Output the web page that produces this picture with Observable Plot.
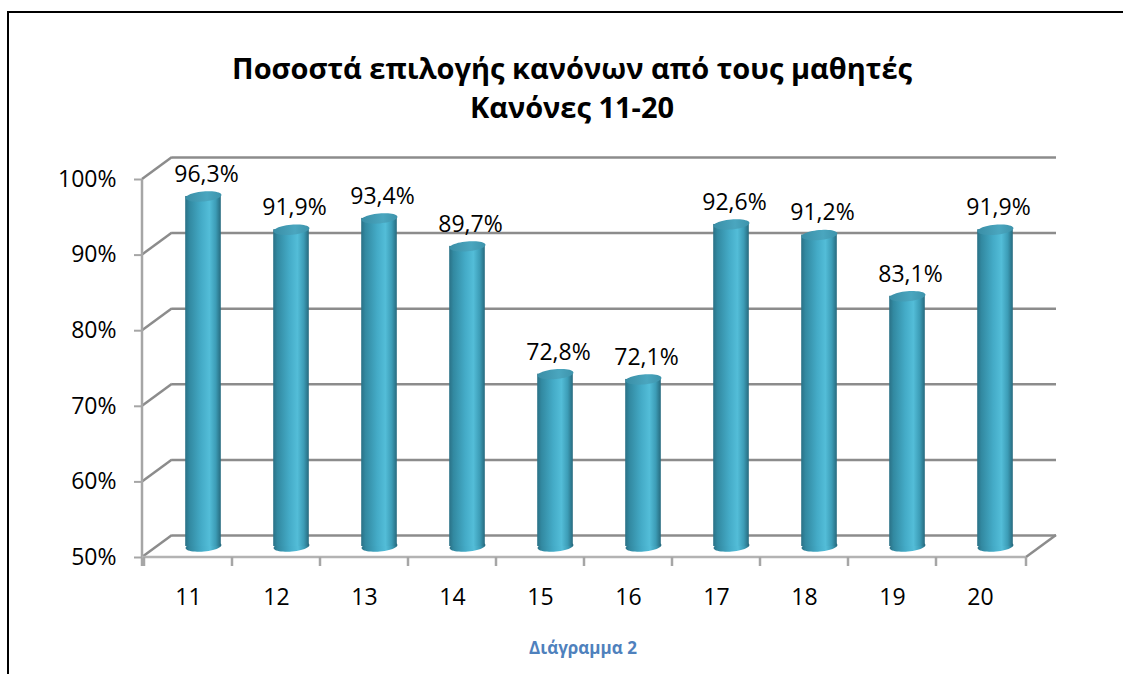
<!DOCTYPE html>
<html>
<head>
<meta charset="utf-8">
<script src="https://cdn.jsdelivr.net/npm/d3@7"></script>
<script src="https://cdn.jsdelivr.net/npm/@observablehq/plot@0.6"></script>
<style>
  html, body { margin: 0; padding: 0; background: #fff; }
  body { width: 1123px; height: 674px; overflow: hidden; position: relative; font-family: "Open Sans", sans-serif; }
  #frame { position: absolute; left: 7px; top: 11px; width: 1140px; height: 700px; border-left: 2px solid #000; border-top: 2px solid #000; box-sizing: border-box; }
  #title { position: absolute; left: 0; width: 1144px; top: 48px; text-align: center; font-weight: 700; font-size: 29px; line-height: 39px; color: #000; }
  #chart { position: absolute; left: 0; top: 0; }
  #caption { position: absolute; left: 0; width: 1166px; top: 636px; text-align: center; font-weight: 700; font-size: 17px; color: #4f81bd; }
</style>
</head>
<body>
<div id="frame"></div>
<div id="title">Ποσοστά επιλογής κανόνων από τους μαθητές<br>Κανόνες 11-20</div>
<div id="chart"></div>
<div id="caption">Διάγραμμα 2</div>
<script>
// ---- data ----
const categories = ["11", "12", "13", "14", "15", "16", "17", "18", "19", "20"];
const values = [96.3, 91.9, 93.4, 89.7, 72.8, 72.1, 92.6, 91.2, 83.1, 91.9];
const yTicks = [50, 60, 70, 80, 90, 100];

const data = categories.map((c, i) => ({cat: c, v: values[i]}));

// ---- 3D look constants (style only) ----
const DX = 30, DY = -22;          // depth offset of the back wall
const CX = DX / 2, CY = DY / 2;   // cylinders sit mid-depth
const GRID = "#8c8c8c";
const svgNS = "http://www.w3.org/2000/svg";

function el(name, attrs) {
  const e = document.createElementNS(svgNS, name);
  for (const k in attrs) e.setAttribute(k, attrs[k]);
  return e;
}

// ellipse symbol for the cylinder caps
const capSymbol = {
  draw(ctx) {
    const rx = 18, ry = 5, a = -0.09, n = 48;
    for (let i = 0; i <= n; i++) {
      const t = 2 * Math.PI * i / n;
      const x = rx * Math.cos(t), y = ry * Math.sin(t);
      const X = x * Math.cos(a) - y * Math.sin(a);
      const Y = x * Math.sin(a) + y * Math.cos(a);
      if (i === 0) ctx.moveTo(X, Y); else ctx.lineTo(X, Y);
    }
    ctx.closePath();
  }
};

// chrome: gradients, side-wall diagonals, floor, category ticks
function chrome(index, scales, vals, dims) {
  const x = scales.x, y = scales.y;
  const g = el("g", {});
  const defs = el("defs", {});
  const body = el("linearGradient", {id: "cylBody", x1: "0", x2: "1", y1: "0", y2: "0"});
  [["0", "#2a7186"], ["0.12", "#3289a1"], ["0.45", "#44abc7"], ["0.68", "#53bdd8"], ["0.86", "#3c9cb6"], ["1", "#276a7e"]]
    .forEach(([o, c]) => body.appendChild(el("stop", {offset: o, "stop-color": c})));
  const top = el("linearGradient", {id: "cylTop", x1: "0", x2: "1", y1: "0", y2: "0"});
  [["0", "#3a8ea6"], ["0.6", "#4aa6bf"], ["1", "#3d93ab"]]
    .forEach(([o, c]) => top.appendChild(el("stop", {offset: o, "stop-color": c})));
  defs.appendChild(body); defs.appendChild(top);
  g.appendChild(defs);

  const x0 = dims.marginLeft, x1 = dims.width - dims.marginRight;
  const yb = y(50), yt = y(100);
  const line = (a, b, c, d, stroke) => g.appendChild(el("line", {x1: a, y1: b, x2: c, y2: d, stroke, "stroke-width": 2.5}));
  // left side wall diagonals at each tick
  for (const t of yTicks) line(x0, y(t), x0 + DX, y(t) + DY, GRID);
  // right floor diagonal
  line(x1, yb, x1 + DX, yb + DY, GRID);
  // front vertical axis line
  line(x0, yt, x0, yb + 9, "#a6a6a6");
  // front floor edge
  line(x0, yb, x1, yb, "#b3b3b3");
  // category ticks at band boundaries
  for (const c of categories) line(x(c), yb, x(c), yb + 9, "#a6a6a6");
  line(x1, yb, x1, yb + 9, "#a6a6a6");
  return g;
}

const plot = Plot.plot({
  width: 1123,
  height: 674,
  marginLeft: 142,
  marginRight: 97,
  marginTop: 179,
  marginBottom: 117,
  style: {fontFamily: "'Open Sans', sans-serif", fontSize: "23px", color: "#000", background: "transparent", overflow: "visible"},
  x: {domain: categories, padding: 0, axis: null},
  y: {domain: [50, 100], axis: null},
  marks: [
    chrome,
    // back wall gridlines
    Plot.ruleY(yTicks, {dx: DX, dy: DY, stroke: GRID, strokeWidth: 2.5}),
    // cylinder bottoms
    Plot.dot(data, {x: "cat", y: () => 50, dx: CX, dy: CY, symbol: capSymbol, fill: "url(#cylBody)", stroke: "none"}),
    // cylinder bodies
    Plot.barY(data, {x: "cat", y1: 50, y2: "v", dx: CX, dy: CY, insetLeft: 26.2, insetRight: 26.2, fill: "url(#cylBody)"}),
    // cylinder tops
    Plot.dot(data, {x: "cat", y: "v", dx: CX, dy: CY, symbol: capSymbol, fill: "url(#cylTop)", stroke: "none"}),
    // value labels
    Plot.text(data, {x: "cat", y: "v", text: d => String(d.v).replace(".", ",") + "%", dx: CX + 3, dy: CY - 22, fontSize: 23, fill: "#000"}),
    // axes
    Plot.axisY(yTicks, {label: null, tickFormat: d => d + "%", tickSize: 8, tickPadding: 18, stroke: "#a6a6a6", strokeWidth: 2, fill: "#000", fontSize: 23}),
    Plot.axisX({label: null, tickSize: 0, tickPadding: 31, fill: "#000", fontSize: 23})
  ]
});
document.getElementById("chart").appendChild(plot);
</script>
</body>
</html>
